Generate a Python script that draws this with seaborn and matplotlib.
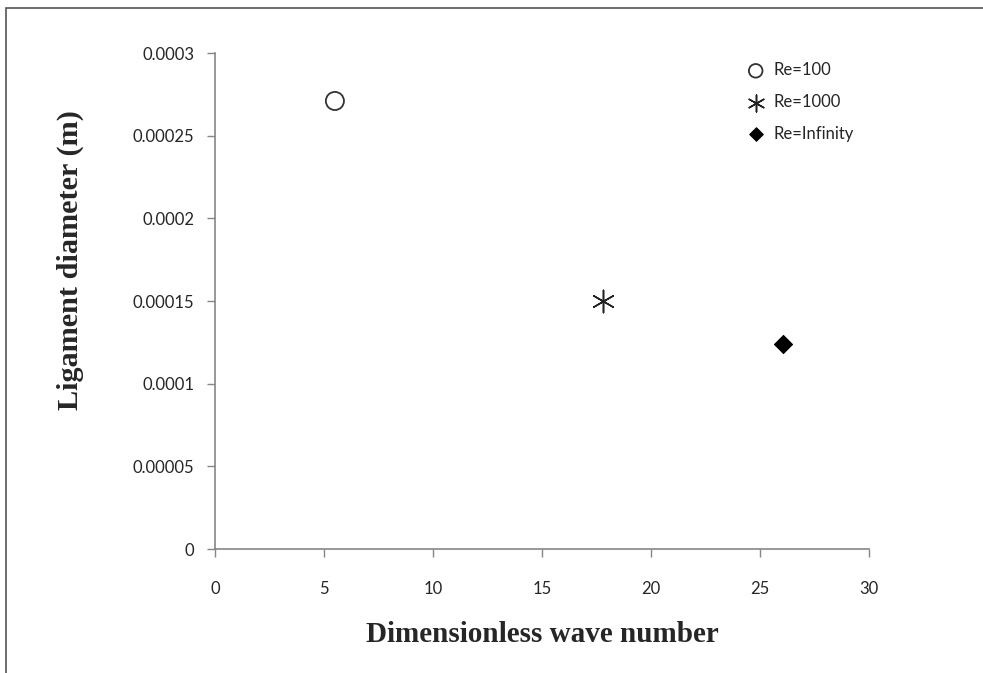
import matplotlib
matplotlib.use("Agg")
import matplotlib.pyplot as plt
import seaborn as sns
import pandas as pd
from matplotlib.patches import Rectangle

# data
series = ["Re=100", "Re=1000", "Re=Infinity"]
wave_number = [5.5, 17.8, 26.05]
diameter = [0.000271, 0.00015, 0.000124]
x_ticks = [0, 5, 10, 15, 20, 25, 30]
y_ticks = [0, 0.00005, 0.0001, 0.00015, 0.0002, 0.00025, 0.0003]
y_labels = ["0", "0.00005", "0.0001", "0.00015", "0.0002", "0.00025", "0.0003"]

df = pd.DataFrame({"series": series, "k": wave_number, "d": diameter})

sns.set_style("white")
plt.rcParams["font.family"] = ["Lato", "DejaVu Sans"]

fig = plt.figure(figsize=(9.83, 6.73), dpi=100)
ax = fig.add_axes([0.2187, 0.1842, 0.6654, 0.737])

# chart border (excel style, cropped on right/bottom)
fig.patches.append(Rectangle((0.006, -0.05), 1.1, 1.038, transform=fig.transFigure,
                             fill=False, edgecolor="#555555", linewidth=1.2))

styles = {
    "Re=100": dict(marker="o", s=170, facecolor="none", edgecolor="#333333", linewidth=1.3),
    "Re=1000": dict(marker=(6, 2, 0), s=260, color="#222222", linewidth=1.1),
    "Re=Infinity": dict(marker="D", s=85, color="black", edgecolor="black"),
}
for name in series:
    sub = df[df["series"] == name]
    sns.scatterplot(data=sub, x="k", y="d", ax=ax, label=name, **styles[name])

ax.set_xlim(0, 30)
ax.set_ylim(0, 0.0003)
ax.set_xticks(x_ticks)
ax.set_yticks(y_ticks)
ax.set_yticklabels(y_labels)
ax.tick_params(axis="both", labelsize=12, direction="out", length=6, width=1,
               color="#868686", left=True, bottom=True)
ax.tick_params(axis="x", pad=17)
ax.tick_params(axis="y", pad=9)

for side in ["top", "right"]:
    ax.spines[side].set_visible(False)
for side in ["left", "bottom"]:
    ax.spines[side].set_color("#868686")
    ax.spines[side].set_linewidth(1.2)

ax.set_xlabel("Dimensionless wave number", family="Liberation Serif",
              fontweight="bold", fontsize=21, labelpad=17)
ax.set_ylabel("Ligament diameter (m)", family="Liberation Serif",
              fontweight="bold", fontsize=21.8)
ax.yaxis.set_label_coords(-0.2, 0.583)

leg = ax.legend(loc="upper left", bbox_to_anchor=(0.791, 0.995), frameon=False,
                fontsize=12, handletextpad=0.05, labelspacing=0.95,
                borderaxespad=0, markerscale=0.75)

fig.savefig("out.png", dpi=100)
